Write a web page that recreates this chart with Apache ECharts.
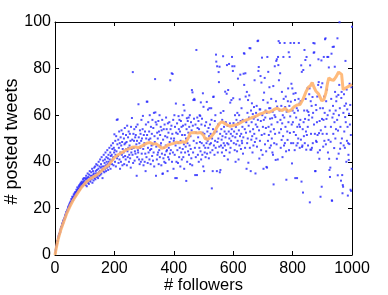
<!DOCTYPE html>
<html>
<head>
<meta charset="utf-8">
<script src="https://cdn.jsdelivr.net/npm/echarts@6/dist/echarts.min.js"></script>
<style>html,body{margin:0;padding:0;background:#fff;}#c{width:388px;height:295px;}</style>
</head>
<body>
<div id="c"></div>
<script>
// Scatter: # posted tweets for each follower count (follower count = band start + position)
const tweetsF1 = [1,2,2.5,3.5,4,4.5,5,6,6,7,
7.5,8,8.5,9,9,9.5,10.5,10,11,11.5,
12,12,12.5,13.5,13,13.5,14.5,14,15,15,
15.5,16,15.5,17,16.5,17.5,17,18.5,18,18.5,
19,19.5,19,20.5,20,21,20.5,21.5,22,21,
22.5,22,23,22.5,24,23,23.5,25,24,24.5,
23.5,25,26,24.5,25.5,26.5,25,27,26,25.5,
27,28,26.5,27.5,29,27,28,28.5,27.5,29.5,
28.5,30,29,28,30.5,29.5,31,29,30,31.5,
30.5,29.5,31,32.5,30,31.5,33,31,32,30.5];
const tweetsF101 = [31,33,30,32.5,34,31.5,29.5,33,32,35,
31,33.5,32,30.5,34.5,33,36,32,31.5,34,
33,35.5,32.5,34,37,31,33.5,36,34.5,32,
35,37.5,33,34,38,32.5,36,35,39,33.5,
36.5,34,38.5,35,33,37,40,35.5,34,38,
36,41,34.5,37.5,39,35,42,36.5,38,33,
37,40.5,36,43,38,35.5,39.5,41,37,44,
38.5,36,42,40,37.5,45,39,41.5,36.5,43,
40,38,46,41,39,44,37,42.5,47,40.5,
43,39,45.5,41,48,42,38.5,46,44,51.8];
const tweetsF201 = [45,40,49,43,38,51,44.5,58,41.5,47.5,
58.2,42.5,49.5,39.5,46,53,41,48,37,44,
50.5,40,47,53.5,43,48.5,38.5,45.5,52,42,
44,50,39,47.5,54.5,42.5,48,41,51.5,45.5,
48.5,38.5,55.5,44.5,42,50.5,46,53,40,43,
47,52,41.5,49,37.5,55,44,45.5,58.8,49.5,
43,78.5,39.5,52,46,49,54,40.5,44.5,50.5,
43.5,51.5,55,47.5,34,49,42,56,45,44,
64.7,50.5,41,48,39,53.5,46,52,40,49,
58,43.5,50,41,54,59.7,45.5,38.5,51.5,47];
const tweetsF301 = [48,40,53,43.5,36,56,50,42,65.8,51.5,
65.8,39.5,46,57,44,49.5,53,41,60,45,
50,39,55,45.5,47,52,42.5,58,47.5,40.5,
54.5,44,61,38,51,48.5,75.5,61.2,57,34,
46.5,56,41,52.5,43,50,44,57.5,39,53,
45,60,42,51.5,47,55,48,38.5,53.5,43.5,
58,34.8,35,49.5,41.5,54,46,40,56,43,
51,39.5,47,59,44.5,54,45,50.5,36,56.5,
42,52.5,46,41,57,48.5,43.5,75,54,45,
50,55.5,78,40,52,77.7,44,58,37,49];
const tweetsF401 = [50,60,43,55,33,47,65,52.5,40,33,
56.5,45,52,39.5,48,59.6,54,42,58,46,
53,38,49,57.5,44,55,41,51.5,60,45.5,
55.5,42,64.4,47.5,37,62,51.5,44,56,46.5,
50,31.8,54,58.7,40,48,57.5,44.5,52.5,59,
43,55,47,60,39,51,45.5,57,41.5,53.5,
70.8,38.5,69.8,55.5,44,66.5,49,58.5,67,66.5,
46,34.3,56,42,52.5,88,48,34.3,59,54.5,
43,50.5,57.5,40,54,46,60,48.5,59.7,44.5,
65.5,41,56,48,58.5,43,52.5,69.4,38,63.6];
const tweetsF501 = [47,36,52,44,55.5,46,42,50,57,48,
65.7,43.5,53,49,62.4,46,54.5,41.5,51,63,
47.5,56,44,52,48,63,58,28.6,50,45,
36,54,67.8,68,47,52.5,43,57.5,49,60,
46,86,83,53,36,81,48.5,44,56,50,
78.5,74.2,46.5,80.8,35.5,52,36.5,61,47,54,
49.5,44,58,51,46,85.3,61.8,48,55,42.5,
53,47,70.1,50.5,57,45,52,69.2,81.5,48,
55.5,41,70.8,47.5,53,82,50,44,56.5,65.4,
46,52,49,66.5,54,85,81,51,79,67.3];
const tweetsF601 = [56.6,48,53,81,45,60,50.5,40,55,47.5,
58,52,44.5,61,49,75.7,56.7,41,53.5,60,
47,66.8,51,77.4,57.5,45.5,52,63,49,48,
55,58,43.5,50.5,77.8,86.6,73,86.4,54,46,
78,68,52.5,57,37,70,48,61,50,66.5,
39.6,55.5,59,68.5,88.8,46,53,88.7,36,62,
49.5,57,65.1,51,44,60.5,54,47,58.5,63.5,
52,75,48.5,59.2,35,56,61,50,64,46.5,
55,91.8,58,92,79,80.7,53.5,41.4,62.5,49,
62.5,76.8,57.5,45,74,51.5,84.7,60,43,55];
const tweetsF701 = [66.5,37,58,69.7,52,76,47.5,59,62,54.5,
44.5,37.8,61,37.5,85,65.4,49,78.6,55,51.5,
63,72,46,58.5,63,53,47,67,56,50,
58.7,44,61.5,43,72.5,30.3,54,48,60,81,
52,59.2,40.8,66,83.3,47.5,84,63.7,57,41,
85,81.5,91.8,75,52.5,62,91,78,58,46,
54,64,49.4,70,56.5,42,60,51,85,67,
47,59,91,48,63.5,55,68,44.5,32.3,61.5,
62.2,53,49.4,66,71.5,57,87,45,64,85,
52.4,59.5,91,65.8,48,73.5,56,39.3,71.5,62];
const tweetsF801 = [57,48,69.2,52.8,91,61,45,66.5,33,69.5,
51.5,59,47,63,33,55,48,62,50,67,
91,56,65,46,55,58,66,49.5,81.4,31.5,
78.6,46.4,47,54,26.8,79.4,57,51,62,88,
48,58.4,83.7,67,53,45.2,85,51.5,62,71.5,
55,47,61.4,58,60,69,71.5,22.6,81.4,45.2,
66,52,45.2,64,46,59,67.8,48,61,91,
86.8,56,87,90.8,52,36,36,64.4,49,62.2,
48.5,57,68,51.5,44,73,84,74.2,52.3,41.3,
57.5,45,63,25,53.5,72,83.5,29.3,58.4,73.7];
const tweetsF901 = [52,63,46.5,58,85,68,49,61,92.6,55,
93,47.5,66,58.4,52,71,85,60,44,85,
49.4,80.5,41.3,36.5,62,33.5,37.5,48.6,55,67,
86.4,23.4,23.3,59,89.3,64,52,60.6,89.4,45.9,
57,80.8,70,50,62,54,66,68,41.3,58,
93,34.2,53.4,68.7,43.5,60,73,99.9,63,45.6,
55,48,31.9,67.4,70,50,34.3,26.5,30,29.3,
61,47,69,53,64,46,59.2,83.3,57,65,
40,71,49,62.5,55,25.5,48,43,40.8,60.6,
47.6,73.5,56,64.4,28,51.5,27.5,72,37,98];
const bandStarts = [1,101,201,301,401,501,601,701,801,901];
const bands = [tweetsF1,tweetsF101,tweetsF201,tweetsF301,tweetsF401,tweetsF501,tweetsF601,tweetsF701,tweetsF801,tweetsF901];

// Running average line
const avgFollowers = [0,5,10,20,30,40,50,60,70,80,90,100,110,120,130,140,150,160,170,180,190,200,210,220,230,240,250,260,270,280,290,300,310,320,330,340,350,360,370,380,390,400,410,420,430,440,450,455,460,470,480,490,500,505,515,525,535,545,555,562,570,580,590,600,610,620,630,640,650,660,670,680,690,700,710,720,730,740,748,755,765,775,785,795,805,815,825,835,845,853,860,866,872,878,887,893,898,905,912,918,922,930,938,945,950,955,960,965,970,975,983,990,1000];
const avgTweets = [0,3.5,6.5,11,14.5,18,20.8,23.3,25.3,27.3,29.2,30.6,31.8,32.8,33.6,34.3,35.4,36.5,37.6,38.5,40.2,41.8,42.8,43.6,44.3,45.2,45.6,46.2,46.4,46,46.6,47.4,48,48.3,47.6,47.8,46.8,45.8,46.2,47.2,47.6,47.9,48.4,48.2,48.6,48.3,50.5,52.4,53,52.6,52.4,52.6,51.4,50,49.6,50.6,52.2,54.8,56.6,57.2,56.6,55.8,55.2,55.6,55.9,56.4,57.2,57.8,58.2,58.8,59.3,59.8,60.5,60.9,61.6,61.2,61.8,62.6,63,62.4,62,63,61.6,62.2,63.6,64.4,64.6,66.8,70,72,72.6,74,72,70.4,69.2,67.6,66.2,66.6,69.5,74,76,75.2,75,76.2,77,78.5,79.3,77.5,71,70.6,72,72.5,73.2];

const xTicks = [0,200,400,600,800,1000];
const yTicks = [0,20,40,60,80,100];

const scatterData = [];
bands.forEach((arr, b) => arr.forEach((y, i) => scatterData.push([bandStarts[b] + i, y])));
const lineData = avgFollowers.map((x, i) => [x, avgTweets[i]]);

const font = 'Liberation Sans, Arial, Helvetica, sans-serif';
const axisCommon = {
  axisLine: {show: true, onZero: false, lineStyle: {color: '#000', width: 1}},
  axisTick: {show: true, inside: true, length: 4, lineStyle: {color: '#000', width: 1}},
  splitLine: {show: false}
};
const chart = echarts.init(document.getElementById('c'), null, {renderer: 'canvas'});
chart.setOption({
  animation: false,
  backgroundColor: '#fff',
  grid: {left: 55, right: 36, top: 22, bottom: 40, containLabel: false, outerBoundsMode: 'none'},
  xAxis: [
    Object.assign({type: 'value', position: 'bottom', min: xTicks[0], max: xTicks[xTicks.length-1], interval: 200,
      name: '# followers', nameLocation: 'middle', nameGap: 22, nameMoveOverlap: false,
      nameTextStyle: {fontFamily: font, fontSize: 16.5, color: '#000'},
      axisLabel: {fontFamily: font, fontSize: 16, color: '#000', margin: 6, formatter: v => String(v)}}, axisCommon),
    Object.assign({type: 'value', position: 'top', min: xTicks[0], max: xTicks[xTicks.length-1], interval: 200,
      axisLabel: {show: false}}, axisCommon)
  ],
  yAxis: [
    Object.assign({type: 'value', position: 'left', min: yTicks[0], max: yTicks[yTicks.length-1], interval: 20,
      name: '# posted tweets', nameLocation: 'middle', nameGap: 34, nameRotate: 90, nameMoveOverlap: false,
      nameTextStyle: {fontFamily: font, fontSize: 18, color: '#000', padding: [0, 6, 0, 0]},
      axisLabel: {fontFamily: font, fontSize: 16, color: '#000', margin: 4, formatter: v => String(v)}}, axisCommon),
    Object.assign({type: 'value', position: 'right', min: yTicks[0], max: yTicks[yTicks.length-1], interval: 20,
      axisLabel: {show: false}}, axisCommon)
  ],
  series: [
    {type: 'scatter', data: scatterData, symbol: 'rect', symbolSize: 2,
      itemStyle: {color: '#2525ff'}, z: 2, silent: true},
    {type: 'line', data: lineData, showSymbol: false, symbol: 'none', smooth: false,
      lineStyle: {color: '#ffb46e', width: 3, opacity: 0.9}, z: 3, silent: true}
  ]
});
</script>
</body>
</html>
